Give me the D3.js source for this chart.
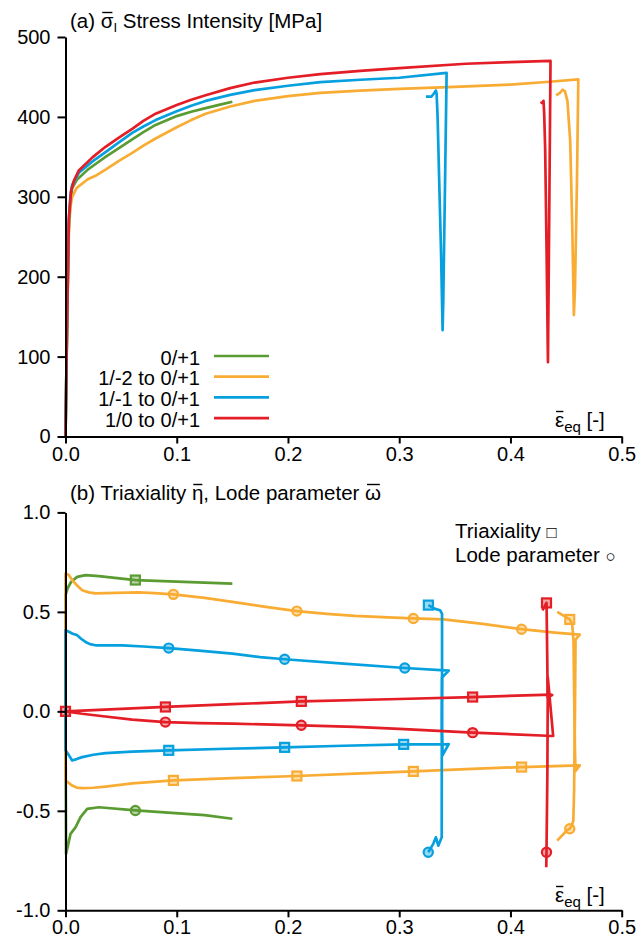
<!DOCTYPE html>
<html>
<head>
<meta charset="utf-8">
<script src="https://cdn.jsdelivr.net/npm/d3@7"></script>
<style>
  body { margin: 0; background: #fff; }
  svg { display: block; font-family: "Liberation Sans", Arial, "DejaVu Sans", sans-serif; }
  .axis path, .axis line { stroke: #000; stroke-width: 2; }
  .axis text { font-size: 20px; fill: #000; font-family: "Liberation Sans", Arial, sans-serif; }
</style>
</head>
<body>
<svg id="chart" width="638" height="937"></svg>
<script>
"use strict";

// ---- data ----
var seriesNames = ["0/+1", "1/-2 to 0/+1", "1/-1 to 0/+1", "1/0 to 0/+1"];
var seriesColors = ["#5a9b32", "#f9ac33", "#06a0df", "#e41e26"];

var xTicks = [0, 0.1, 0.2, 0.3, 0.4, 0.5];
var stressTicks = [0, 100, 200, 300, 400, 500];
var ratioTicks = [-1, -0.5, 0, 0.5, 1];

// (a) stress intensity vs equivalent strain
var stressGreen = [[0,0],[0.0015,150],[0.003,262],[0.0045,296],[0.006,311],[0.01,321],[0.02,334],[0.028,342],[0.036,350],[0.048,361],[0.06,372],[0.07,381],[0.081,390],[0.1,401],[0.113,406.5],[0.126,411],[0.138,415],[0.15,419]];
var stressOrange = [[0,0],[0.0015,150],[0.003,255],[0.0045,288],[0.006,300],[0.01,311],[0.02,322],[0.028,327],[0.036,334],[0.048,345],[0.06,355],[0.07,364],[0.081,373],[0.1,387],[0.113,396],[0.126,404],[0.148,413],[0.17,420],[0.2,426],[0.229,430],[0.265,433],[0.3,435],[0.35,437.5],[0.4,440.5],[0.435,444],[0.461,447],[0.4598,320],[0.458,185],[0.457,152],[0.4556,260],[0.4537,370],[0.4512,420],[0.449,432],[0.447,434],[0.4445,430],[0.441,427]];
var stressBlue = [[0,0],[0.0015,150],[0.003,268],[0.0045,303],[0.006,315],[0.012,330],[0.024,344],[0.036,356],[0.048,368],[0.06,380],[0.07,388],[0.081,396],[0.1,407],[0.113,414],[0.126,420],[0.148,427.5],[0.17,433.6],[0.2,439],[0.229,443.6],[0.265,446.5],[0.3,449],[0.3426,455],[0.341,300],[0.3396,170],[0.339,133],[0.3376,230],[0.336,317],[0.3345,400],[0.3336,429],[0.333,433],[0.331,429],[0.329,425.5],[0.324,425.5]];
var stressRed = [[0,0],[0.0015,150],[0.003,273],[0.005,307],[0.0075,320],[0.012,333],[0.024,349],[0.036,362.6],[0.048,374],[0.06,385],[0.07,395],[0.081,404],[0.1,415],[0.113,421.5],[0.126,427],[0.148,436],[0.17,443],[0.2,449],[0.229,453.6],[0.265,457.5],[0.3,461],[0.36,466.5],[0.4,468.5],[0.436,470],[0.435,300],[0.4337,93],[0.4325,230],[0.4312,360],[0.4303,405],[0.4297,420],[0.4285,418],[0.427,417]];

// (b) triaxiality and Lode parameter vs equivalent strain
var triGreen = [[0,0],[0,0.584],[0.002,0.62],[0.005,0.65],[0.0105,0.676],[0.018,0.685],[0.03,0.68],[0.0628,0.66],[0.1,0.652],[0.15,0.642]];
var lodeGreen = [[0,0],[0.0005,-0.717],[0.002,-0.68],[0.0045,-0.616],[0.009,-0.583],[0.0135,-0.532],[0.0195,-0.49],[0.03,-0.482],[0.0628,-0.498],[0.0987,-0.512],[0.125,-0.522],[0.15,-0.54]];
var triOrange = [[0,0],[0,-0.347],[0.003,-0.36],[0.006,-0.373],[0.01,-0.383],[0.015,-0.386],[0.025,-0.384],[0.036,-0.378],[0.06,-0.362],[0.097,-0.347],[0.15,-0.336],[0.208,-0.325],[0.26,-0.313],[0.3127,-0.302],[0.36,-0.29],[0.41,-0.28],[0.4623,-0.272],[0.4585,-0.3],[0.458,-0.2],[0.4572,0.1],[0.4567,0.35],[0.4555,0.44],[0.4533,0.462],[0.442,0.5]];
var lodeOrange = [[0,0],[0,0.693],[0.003,0.685],[0.006,0.66],[0.01,0.635],[0.015,0.609],[0.021,0.598],[0.027,0.593],[0.045,0.596],[0.066,0.598],[0.08,0.594],[0.097,0.588],[0.125,0.57],[0.15,0.55],[0.18,0.525],[0.208,0.504],[0.235,0.49],[0.26,0.48],[0.29,0.472],[0.3127,0.467],[0.34,0.462],[0.375,0.44],[0.41,0.413],[0.44,0.396],[0.4623,0.386],[0.4585,0.36],[0.458,0.0],[0.4572,-0.4],[0.4565,-0.55],[0.455,-0.575],[0.4533,-0.59],[0.4505,-0.6],[0.442,-0.65]];
var triBlue = [[0,0],[0,-0.196],[0.003,-0.22],[0.006,-0.247],[0.01,-0.24],[0.015,-0.23],[0.025,-0.218],[0.036,-0.21],[0.06,-0.202],[0.0928,-0.196],[0.145,-0.188],[0.197,-0.181],[0.25,-0.173],[0.304,-0.166],[0.341,-0.166],[0.3445,-0.165],[0.339,-0.22],[0.3385,-0.1],[0.3385,0.3],[0.3385,0.49],[0.3367,0.508],[0.3322,0.515],[0.3262,0.534]];
var lodeBlue = [[0,0],[0,0.408],[0.003,0.4],[0.0065,0.39],[0.0105,0.383],[0.014,0.365],[0.018,0.349],[0.022,0.338],[0.027,0.332],[0.051,0.332],[0.07,0.326],[0.0928,0.318],[0.12,0.305],[0.15,0.29],[0.175,0.273],[0.197,0.262],[0.25,0.24],[0.305,0.218],[0.341,0.206],[0.3445,0.205],[0.3385,0.17],[0.3383,0],[0.3382,-0.633],[0.3351,-0.675],[0.333,-0.633],[0.3306,-0.666],[0.3261,-0.708]];
var triRed = [[0,0],[0.0898,0.022],[0.15,0.036],[0.212,0.05],[0.3,0.062],[0.366,0.072],[0.4366,0.084],[0.4375,0.082],[0.4335,0.07],[0.433,0.3],[0.4325,0.52],[0.4324,0.545],[0.4288,0.507]];
var lodeRed = [[0,0],[0.015,-0.012],[0.03,-0.022],[0.06,-0.042],[0.0898,-0.054],[0.12,-0.059],[0.15,-0.062],[0.212,-0.07],[0.26,-0.078],[0.3,-0.088],[0.366,-0.107],[0.4384,-0.124],[0.4336,0.17],[0.4332,-0.3],[0.4326,-0.6],[0.4324,-0.708],[0.4322,-0.784]];

// marker positions (squares = triaxiality, circles = Lode parameter)
var triMarks = [
  [[0.0628,0.66]],
  [[0.097,-0.347],[0.208,-0.325],[0.3127,-0.302],[0.41,-0.28],[0.4533,0.462]],
  [[0.0928,-0.196],[0.197,-0.181],[0.304,-0.166],[0.3262,0.534]],
  [[0,0],[0.0898,0.022],[0.212,0.05],[0.366,0.072],[0.4324,0.545]]
];
var lodeMarks = [
  [[0.0628,-0.498]],
  [[0.097,0.588],[0.208,0.504],[0.3127,0.467],[0.41,0.413],[0.4533,-0.59]],
  [[0.0928,0.318],[0.197,0.262],[0.305,0.218],[0.3261,-0.708]],
  [[0.0898,-0.054],[0.212,-0.07],[0.366,-0.107],[0.4324,-0.708]]
];

var stressSeries = [stressGreen, stressOrange, stressBlue, stressRed];
var triSeries = [triGreen, triOrange, triBlue, triRed];
var lodeSeries = [lodeGreen, lodeOrange, lodeBlue, lodeRed];

// ---- scales ----
var svg = d3.select("#chart");
var x = d3.scaleLinear().domain([0, 0.5]).range([65.5, 621.7]);
var yTop = d3.scaleLinear().domain([0, 500]).range([436.5, 37]);
var yBot = d3.scaleLinear().domain([-1, 1]).range([910.3, 512.4]);

function lineFor(y) {
  return d3.line().x(function(d) { return x(d[0]); }).y(function(d) { return y(d[1]); });
}

// puts a bar over one character of a text element
function overline(textSel, index) {
  var box = textSel.node().getExtentOfChar(index);
  svg.append("line")
    .attr("x1", box.x + box.width * 0.12).attr("x2", box.x + box.width * 0.92)
    .attr("y1", box.y + 3.5).attr("y2", box.y + 3.5)
    .attr("stroke", "#000").attr("stroke-width", 1.4);
}

// ---- (a) ----
var gTop = svg.append("g");
stressSeries.forEach(function(s, i) {
  gTop.append("path").datum(s)
    .attr("d", lineFor(yTop))
    .attr("fill", "none").attr("stroke", seriesColors[i]).attr("stroke-width", 2.7)
    .attr("stroke-linejoin", "round");
});

svg.append("g").attr("class", "axis")
  .attr("transform", "translate(" + x(0) + ",0)")
  .call(d3.axisLeft(yTop).tickValues(stressTicks).tickSize(8).tickPadding(7).tickSizeOuter(0));
svg.append("g").attr("class", "axis")
  .attr("transform", "translate(0," + yTop(0) + ")")
  .call(d3.axisBottom(x).tickValues(xTicks).tickFormat(function(d) { return d.toFixed(1); })
    .tickSize(7).tickPadding(3).tickSizeOuter(0));

var titleA = svg.append("text").attr("x", 70).attr("y", 28).attr("font-size", 20.5);
titleA.append("tspan").text("(a) σ");
titleA.append("tspan").attr("font-size", 13).attr("dy", 4).text("I");
titleA.append("tspan").attr("dy", -4).text(" Stress Intensity [MPa]");
overline(titleA, 4);

var legend = svg.append("g");
seriesNames.forEach(function(name, i) {
  var yy = 356 + i * 20.7;
  legend.append("line").attr("x1", 214).attr("x2", 269).attr("y1", yy).attr("y2", yy)
    .attr("stroke", seriesColors[i]).attr("stroke-width", 2.7);
  legend.append("text").attr("x", 200).attr("y", yy + 8.5).attr("text-anchor", "end")
    .attr("font-size", 20).text(name);
});

function strainLabel(yBase) {
  var t = svg.append("text").attr("x", 555).attr("y", yBase).attr("font-size", 20.5);
  t.append("tspan").text("ε");
  t.append("tspan").attr("font-size", 15).attr("dy", 5).text("eq");
  t.append("tspan").attr("dy", -5).text(" [-]");
  overline(t, 0);
}
strainLabel(427);

// ---- (b) ----
var gBot = svg.append("g");
triSeries.forEach(function(s, i) {
  [s, lodeSeries[i]].forEach(function(ser) {
    gBot.append("path").datum(ser)
      .attr("d", lineFor(yBot))
      .attr("fill", "none").attr("stroke", seriesColors[i]).attr("stroke-width", 2.7)
      .attr("stroke-linejoin", "round");
  });
  gBot.selectAll(null).data(triMarks[i]).enter().append("rect")
    .attr("x", function(d) { return x(d[0]) - 4.5; })
    .attr("y", function(d) { return yBot(d[1]) - 4.5; })
    .attr("width", 9).attr("height", 9)
    .attr("fill", seriesColors[i]).attr("fill-opacity", 0.4)
    .attr("stroke", seriesColors[i]).attr("stroke-width", 2.2);
  gBot.selectAll(null).data(lodeMarks[i]).enter().append("circle")
    .attr("cx", function(d) { return x(d[0]); })
    .attr("cy", function(d) { return yBot(d[1]); })
    .attr("r", 4.6)
    .attr("fill", seriesColors[i]).attr("fill-opacity", 0.4)
    .attr("stroke", seriesColors[i]).attr("stroke-width", 2.2);
});

svg.append("g").attr("class", "axis")
  .attr("transform", "translate(" + x(0) + ",0)")
  .call(d3.axisLeft(yBot).tickValues(ratioTicks).tickFormat(function(d) { return d.toFixed(1); })
    .tickSize(8).tickPadding(7).tickSizeOuter(0));
svg.append("g").attr("class", "axis")
  .attr("transform", "translate(0," + yBot(-1) + ")")
  .call(d3.axisBottom(x).tickValues(xTicks).tickFormat(function(d) { return d.toFixed(1); })
    .tickSize(7).tickPadding(3).tickSizeOuter(0));

var titleB = svg.append("text").attr("x", 70).attr("y", 500).attr("font-size", 20.5)
  .text("(b) Triaxiality η, Lode parameter ω");
overline(titleB, 16);
overline(titleB, 34);

svg.append("text").attr("x", 455).attr("y", 538).attr("font-size", 20.5)
  .text("Triaxiality ").append("tspan").attr("font-size", 17).text("□");
svg.append("text").attr("x", 455).attr("y", 562).attr("font-size", 20.5)
  .text("Lode parameter ").append("tspan").attr("font-size", 17).text("○");

strainLabel(902);
</script>
</body>
</html>
